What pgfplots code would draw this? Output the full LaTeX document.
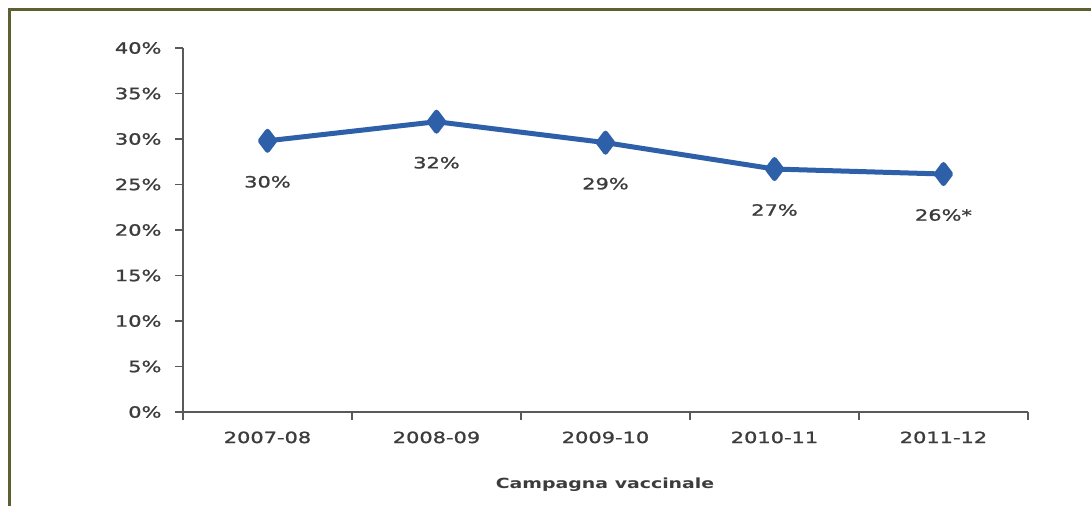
\documentclass[border=0pt]{standalone}
\usepackage{fontspec}
\setmainfont[FakeStretch=1.35, FakeBold=1.2]{DejaVu Sans}
\newfontfamily\titlefont[FakeStretch=1.35]{DejaVu Sans Bold}
\usepackage{pgfplots}
\pgfplotsset{compat=1.18}
\definecolor{txt}{RGB}{60,60,60}
\definecolor{axisgray}{RGB}{89,89,89}
\definecolor{serie}{RGB}{46,96,170}
\definecolor{frame}{RGB}{94,96,50}

\begin{document}
\begin{tikzpicture}[x=1pt,y=1pt]
\useasboundingbox (0,0) rectangle (1091,506);
% cornice
\draw[frame, line width=3pt] (9.5,0) -- (9.5,496.5) -- (1091,496.5);
\begin{axis}[
    at={(183pt,94pt)}, anchor=south west,
    scale only axis, width=845pt, height=364pt,
    xmin=-0.5, xmax=4.5, ymin=0, ymax=40,
    axis x line*=bottom, axis y line*=left,
    axis line style={-, axisgray, line width=1.6pt},
    tick align=outside,
    tick style={axisgray, line width=1.6pt},
    major tick length=8pt,
    xtick={-0.5,0.5,1.5,2.5,3.5,4.5}, xticklabels={,,,,,},
    extra x ticks={0,1,2,3,4},
    extra x tick labels={2007-08,2008-09,2009-10,2010-11,2011-12},
    extra x tick style={major tick length=0pt, xticklabel style={yshift=-16pt}},
    ytick={0,5,...,40},
    yticklabel={\pgfmathprintnumber{\tick}\%},
    yticklabel style={xshift=-10pt},
    ticklabel style={font=\fontsize{15.5}{18}\selectfont, text=txt},
    /pgf/number format/assume math mode=true,
    clip=false,
]
\addplot[serie, line width=5pt, line join=round,
    mark=diamond*, mark size=9.5pt, mark options={solid, draw=none, fill=serie},
    point meta=explicit symbolic,
    nodes near coords,
    every node near coord/.append style={anchor=center, yshift=-41pt,
        text=txt, font=\fontsize{15.5}{18}\selectfont}]
coordinates {
    (0,29.8) [30\%]
    (1,31.9) [32\%]
    (2,29.6) [29\%]
    (3,26.7) [27\%]
    (4,26.15) [26\%*]
};
\end{axis}
\node[text=txt, font=\fontsize{14}{17}\selectfont\titlefont] at (605,21) {Campagna vaccinale};
\end{tikzpicture}
\end{document}
